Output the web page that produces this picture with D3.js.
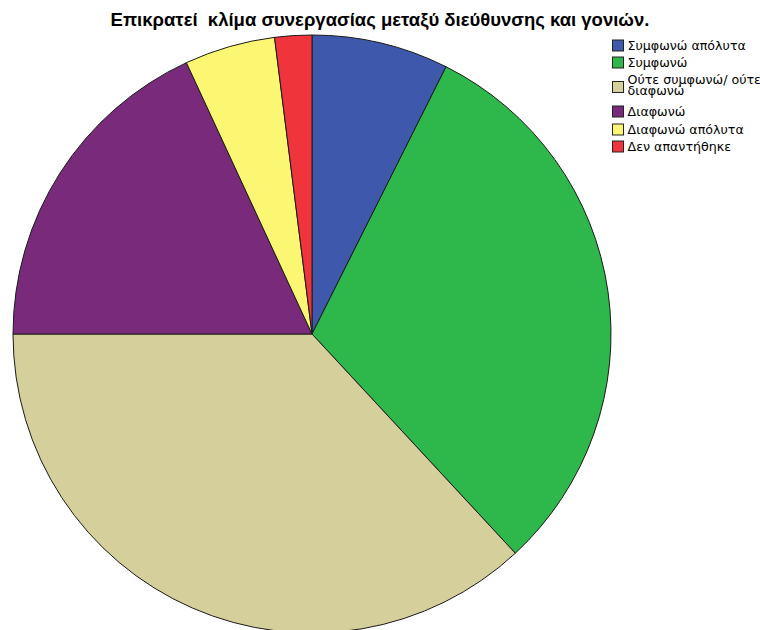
<!DOCTYPE html>
<html><head><meta charset="utf-8">
<script src="https://cdn.jsdelivr.net/npm/d3@7"></script>
<style>body{margin:0;background:#fff}svg{display:block}</style>
</head><body>
<svg id="c" width="760" height="630"></svg>
<script>
const title = "Επικρατεί  κλίμα συνεργασίας μεταξύ διεύθυνσης και γονιών.";
const categories = ["Συμφωνώ απόλυτα","Συμφωνώ","Ούτε συμφωνώ/ ούτε διαφωνώ","Διαφωνώ","Διαφωνώ απόλυτα","Δεν απαντήθηκε"];
const legendLines = [["Συμφωνώ απόλυτα"],["Συμφωνώ"],["Ούτε συμφωνώ/ ούτε","διαφωνώ"],["Διαφωνώ"],["Διαφωνώ απόλυτα"],["Δεν απαντήθηκε"]];
const values = [7.4, 30.7, 36.9, 18.1, 4.9, 2.0];
const colors = ["#3e58ac","#2eb74a","#d4cf9b","#7a2a7b","#fbf773","#f0343c"];

const svg = d3.select("#c");
svg.append("text").attr("x",380).attr("y",26).attr("text-anchor","middle")
  .style("white-space","pre")
  .attr("font-family","Liberation Sans, Arial, sans-serif").attr("font-weight","bold")
  .attr("font-size",18.5).attr("fill","#000").text(title);

const cx=312, cy=334, r=299;
const pie = d3.pie().sort(null).value(d=>d)(values);
const arc = d3.arc().innerRadius(0).outerRadius(r);
const g = svg.append("g").attr("transform",`translate(${cx},${cy})`);
g.selectAll("path").data(pie).join("path")
  .attr("d",arc).attr("fill",(d,i)=>colors[i])
  .attr("stroke","#1a1a1a").attr("stroke-width",1).attr("stroke-linejoin","round");

const tops=[40,57,81.5,106,124,141];
const lg = svg.append("g");
const lt = svg.append("g").attr("transform","translate(627.5,0) scale(1.1,1)")
  .attr("font-family","DejaVu Sans, Verdana, sans-serif").attr("font-size",11.5);
categories.forEach((c,i)=>{
  lg.append("rect").attr("x",612.5).attr("y",tops[i]).attr("width",11).attr("height",11)
    .attr("fill",colors[i]).attr("stroke","#222").attr("stroke-width",1);
  const t = lt.append("text").attr("x",0).attr("fill","#000");
  const lines = legendLines[i];
  if(lines.length===1){
    t.attr("y",tops[i]+10).text(lines[0]);
  } else {
    lines.forEach((l,j)=>t.append("tspan").attr("x",0).attr("y",tops[i]+3+j*11).text(l));
  }
});
</script>
</body></html>
